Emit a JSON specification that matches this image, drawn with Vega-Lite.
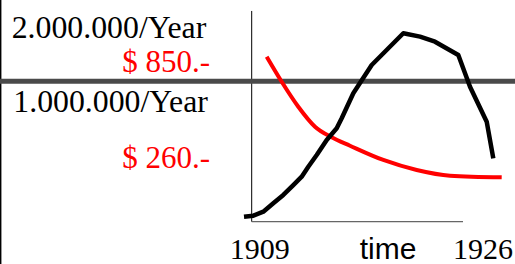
{
  "$schema": "https://vega.github.io/schema/vega-lite/v6.json",
  "width": 515,
  "height": 264,
  "padding": 0,
  "autosize": {"type": "none"},
  "background": "white",
  "config": {"view": {"stroke": null}},
  "datasets": {
    "production": [
      {"year": 1908.434, "million": 0.035},
      {"year": 1909.118, "million": 0.046},
      {"year": 1909.853, "million": 0.088},
      {"year": 1910.588, "million": 0.177},
      {"year": 1911.323, "million": 0.265},
      {"year": 1912.058, "million": 0.370},
      {"year": 1912.675, "million": 0.458},
      {"year": 1913.160, "million": 0.564},
      {"year": 1913.778, "million": 0.688},
      {"year": 1914.513, "million": 0.847},
      {"year": 1915.248, "million": 0.970},
      {"year": 1915.615, "million": 1.076},
      {"year": 1916.468, "million": 1.341},
      {"year": 1917.820, "million": 1.640},
      {"year": 1920.143, "million": 1.976},
      {"year": 1921.370, "million": 1.940},
      {"year": 1922.472, "million": 1.887},
      {"year": 1924.185, "million": 1.746},
      {"year": 1925.045, "million": 1.411},
      {"year": 1926.272, "million": 1.040},
      {"year": 1926.757, "million": 0.653}
    ],
    "price": [
      {"year": 1910.103, "dollars": 850},
      {"year": 1911.205, "dollars": 727.7},
      {"year": 1912.425, "dollars": 605.4},
      {"year": 1913.653, "dollars": 507.6},
      {"year": 1914.880, "dollars": 455.7},
      {"year": 1916.225, "dollars": 414.6},
      {"year": 1918.672, "dollars": 344.7},
      {"year": 1921.127, "dollars": 295.7},
      {"year": 1923.574, "dollars": 267.9},
      {"year": 1927.374, "dollars": 260}
    ]
  },
  "layer": [
    {
      "data": {"values": [{"year": 1890.55}]},
      "mark": {"type": "rule", "color": "black", "strokeWidth": 1.5},
      "encoding": {
        "x": {"field": "year", "type": "quantitative", "axis": null, "scale": {"domain": [1890.501, 1928.352], "nice": false, "zero": false}}
      }
    },
    {
      "data": {"values": [{"year": 1909, "top": 2.212, "bottom": -0.018}]},
      "mark": {"type": "rule", "color": "black", "strokeWidth": 1},
      "encoding": {
        "x": {"field": "year", "type": "quantitative", "axis": null, "scale": {"domain": [1890.501, 1928.352], "nice": false, "zero": false}},
        "y": {"field": "top", "type": "quantitative", "axis": null, "scale": {"domain": [-0.4656, 2.328], "nice": false, "zero": false}},
        "y2": {"field": "bottom"}
      }
    },
    {
      "data": {"values": [{"start": 1909, "end": 1924.53, "million": -0.018}]},
      "mark": {"type": "rule", "color": "#666666", "strokeWidth": 1.3},
      "encoding": {
        "x": {"field": "start", "type": "quantitative", "axis": null, "scale": {"domain": [1890.501, 1928.352], "nice": false, "zero": false}},
        "x2": {"field": "end"},
        "y": {"field": "million", "type": "quantitative", "axis": null, "scale": {"domain": [-0.4656, 2.328], "nice": false, "zero": false}}
      }
    },
    {
      "data": {"values": [{"million": 1.468}]},
      "mark": {"type": "rule", "color": "#4a4a4a", "strokeWidth": 5},
      "encoding": {
        "y": {"field": "million", "type": "quantitative", "axis": null, "scale": {"domain": [-0.4656, 2.328], "nice": false, "zero": false}}
      }
    },
    {
      "data": {"name": "price"},
      "mark": {"type": "line", "color": "#ff0000", "strokeWidth": 4, "interpolate": "monotone"},
      "encoding": {
        "x": {"field": "year", "type": "quantitative", "axis": null, "scale": {"domain": [1890.501, 1928.352], "nice": false, "zero": false}},
        "y": {"field": "dollars", "type": "quantitative", "axis": null, "scale": {"domain": [-164.1, 1127.4], "nice": false, "zero": false}}
      }
    },
    {
      "data": {"name": "production"},
      "mark": {"type": "line", "color": "black", "strokeWidth": 4.5, "strokeJoin": "round"},
      "encoding": {
        "x": {"field": "year", "type": "quantitative", "axis": null, "scale": {"domain": [1890.501, 1928.352], "nice": false, "zero": false}},
        "y": {"field": "million", "type": "quantitative", "axis": null, "scale": {"domain": [-0.4656, 2.328], "nice": false, "zero": false}}
      }
    },
    {
      "data": {"values": [
        {"label": "2.000.000/Year", "year": 1891.36, "million": 1.923},
        {"label": "1.000.000/Year", "year": 1891.48, "million": 1.146}
      ]},
      "mark": {"type": "text", "align": "left", "baseline": "alphabetic", "font": "Liberation Serif", "fontSize": 31.8, "color": "black"},
      "encoding": {
        "x": {"field": "year", "type": "quantitative", "axis": null, "scale": {"domain": [1890.501, 1928.352], "nice": false, "zero": false}},
        "y": {"field": "million", "type": "quantitative", "axis": null, "scale": {"domain": [-0.4656, 2.328], "nice": false, "zero": false}},
        "text": {"field": "label"}
      }
    },
    {
      "data": {"values": [
        {"label": "$ 850.-", "year": 1905.935, "million": 1.569},
        {"label": "$ 260.-", "year": 1905.935, "million": 0.547}
      ]},
      "mark": {"type": "text", "align": "right", "baseline": "alphabetic", "font": "Liberation Serif", "fontSize": 31, "color": "#ff0000"},
      "encoding": {
        "x": {"field": "year", "type": "quantitative", "axis": null, "scale": {"domain": [1890.501, 1928.352], "nice": false, "zero": false}},
        "y": {"field": "million", "type": "quantitative", "axis": null, "scale": {"domain": [-0.4656, 2.328], "nice": false, "zero": false}},
        "text": {"field": "label"}
      }
    },
    {
      "data": {"values": [{"label": "1909", "year": 1909, "million": -0.413}]},
      "mark": {"type": "text", "align": "center", "baseline": "alphabetic", "font": "Liberation Serif", "fontSize": 30, "color": "black", "dx": 8},
      "encoding": {
        "x": {"field": "year", "type": "quantitative", "axis": null, "scale": {"domain": [1890.501, 1928.352], "nice": false, "zero": false}},
        "y": {"field": "million", "type": "quantitative", "axis": null, "scale": {"domain": [-0.4656, 2.328], "nice": false, "zero": false}},
        "text": {"field": "label"}
      }
    },
    {
      "data": {"values": [{"label": "1926", "year": 1926, "million": -0.413}]},
      "mark": {"type": "text", "align": "center", "baseline": "alphabetic", "font": "Liberation Serif", "fontSize": 30, "color": "black"},
      "encoding": {
        "x": {"field": "year", "type": "quantitative", "axis": null, "scale": {"domain": [1890.501, 1928.352], "nice": false, "zero": false}},
        "y": {"field": "million", "type": "quantitative", "axis": null, "scale": {"domain": [-0.4656, 2.328], "nice": false, "zero": false}},
        "text": {"field": "label"}
      }
    },
    {
      "data": {"values": [{"label": "time", "year": 1919.02, "million": -0.413}]},
      "mark": {"type": "text", "align": "center", "baseline": "alphabetic", "font": "Liberation Sans", "fontSize": 30, "color": "black"},
      "encoding": {
        "x": {"field": "year", "type": "quantitative", "axis": null, "scale": {"domain": [1890.501, 1928.352], "nice": false, "zero": false}},
        "y": {"field": "million", "type": "quantitative", "axis": null, "scale": {"domain": [-0.4656, 2.328], "nice": false, "zero": false}},
        "text": {"field": "label"}
      }
    }
  ],
  "resolve": {"scale": {"y": "independent"}}
}
